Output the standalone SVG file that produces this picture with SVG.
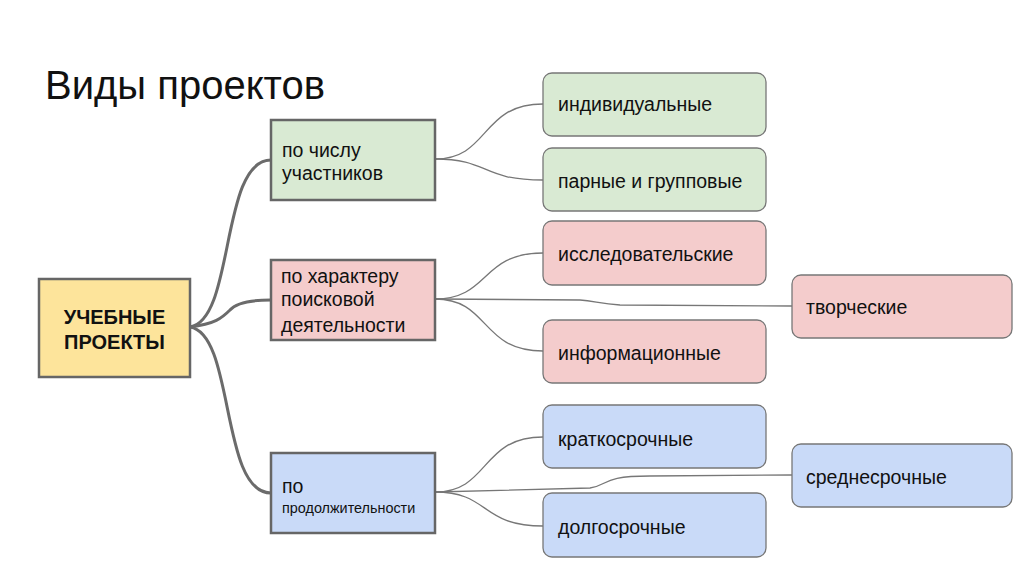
<svg xmlns="http://www.w3.org/2000/svg" width="1024" height="574" viewBox="0 0 1024 574">
<style>
text{font-family:"Liberation Sans",Arial,sans-serif;fill:#111}
.l1{stroke:#666;stroke-width:2.5}
.l2{stroke:#777;stroke-width:1.3}
.thick{fill:none;stroke:#6b6b6b;stroke-width:3}
.thin{fill:none;stroke:#777;stroke-width:1.3}
.t{font-size:19.5px}
.green{fill:#d9ead3}
.pink{fill:#f4cccc}
.blue{fill:#c9daf8}
</style>
<rect width="1024" height="574" fill="#fff"/>
<text x="45" y="99" style="font-size:40px">Виды проектов</text>
<g id="connectors">
<path class="thick" d="M190,327 C235,320 220,160 271,160"/>
<path class="thick" d="M190,327 C215,324 222,318 230,310 C236,303 250,300 271,300"/>
<path class="thick" d="M190,327 C235,334 220,493 271,493"/>
<path class="thin" d="M435,159 C490,159 480,104 543,104"/>
<path class="thin" d="M435,159 C490,159 480,180 543,180"/>
<path class="thin" d="M435,299 C490,299 480,253 543,253"/>
<path class="thin" d="M435,299 C490,299 480,351 543,351"/>
<path class="thin" d="M435,299 L580,300 C595,301 600,304 620,305 L792,306"/>
<path class="thin" d="M435,492 C490,492 480,437 543,437"/>
<path class="thin" d="M435,492 C490,492 480,526 543,526"/>
<path class="thin" d="M435,492 L590,488 C610,485 600,476 650,476 L792,475"/>
</g>
<g id="root">
<rect x="39" y="279" width="151" height="98" fill="#fde49b" class="l1"/>
<text x="114.5" y="324" text-anchor="middle" style="font-size:20px;font-weight:bold">УЧЕБНЫЕ</text>
<text x="114.5" y="349" text-anchor="middle" style="font-size:20px;font-weight:bold">ПРОЕКТЫ</text>
</g>
<g id="n-participants">
<rect x="271" y="120" width="164" height="80" class="green l1"/>
<text x="282" y="157" class="t">по числу</text>
<text x="282" y="180" class="t">участников</text>
</g>
<g id="n-character">
<rect x="271" y="260" width="164" height="80" class="pink l1"/>
<text x="281" y="283" class="t">по характеру</text>
<text x="281" y="306" class="t">поисковой</text>
<text x="281" y="332" class="t">деятельности</text>
</g>
<g id="n-duration">
<rect x="271" y="453" width="164" height="80" class="blue l1"/>
<text x="282" y="493" class="t">по</text>
<text x="282" y="513" style="font-size:14.4px">продолжительности</text>
</g>
<g id="n-individual">
<rect x="543" y="73" width="223" height="63" rx="9" class="green l2"/>
<text x="558" y="111" class="t">индивидуальные</text>
</g>
<g id="n-group">
<rect x="543" y="148" width="223" height="63" rx="9" class="green l2"/>
<text x="558" y="188" class="t">парные и групповые</text>
</g>
<g id="n-research">
<rect x="543" y="221" width="223" height="64" rx="9" class="pink l2"/>
<text x="558" y="261" class="t">исследовательские</text>
</g>
<g id="n-creative">
<rect x="792" y="275" width="220" height="63" rx="9" class="pink l2"/>
<text x="806" y="314" class="t">творческие</text>
</g>
<g id="n-info">
<rect x="543" y="320" width="223" height="63" rx="9" class="pink l2"/>
<text x="558" y="360" class="t">информационные</text>
</g>
<g id="n-short">
<rect x="543" y="405" width="223" height="63" rx="9" class="blue l2"/>
<text x="558" y="446" class="t">краткосрочные</text>
</g>
<g id="n-medium">
<rect x="792" y="444" width="220" height="63" rx="9" class="blue l2"/>
<text x="806" y="484" class="t">среднесрочные</text>
</g>
<g id="n-long">
<rect x="543" y="493" width="223" height="64" rx="9" class="blue l2"/>
<text x="558" y="534" class="t">долгосрочные</text>
</g>
</svg>
